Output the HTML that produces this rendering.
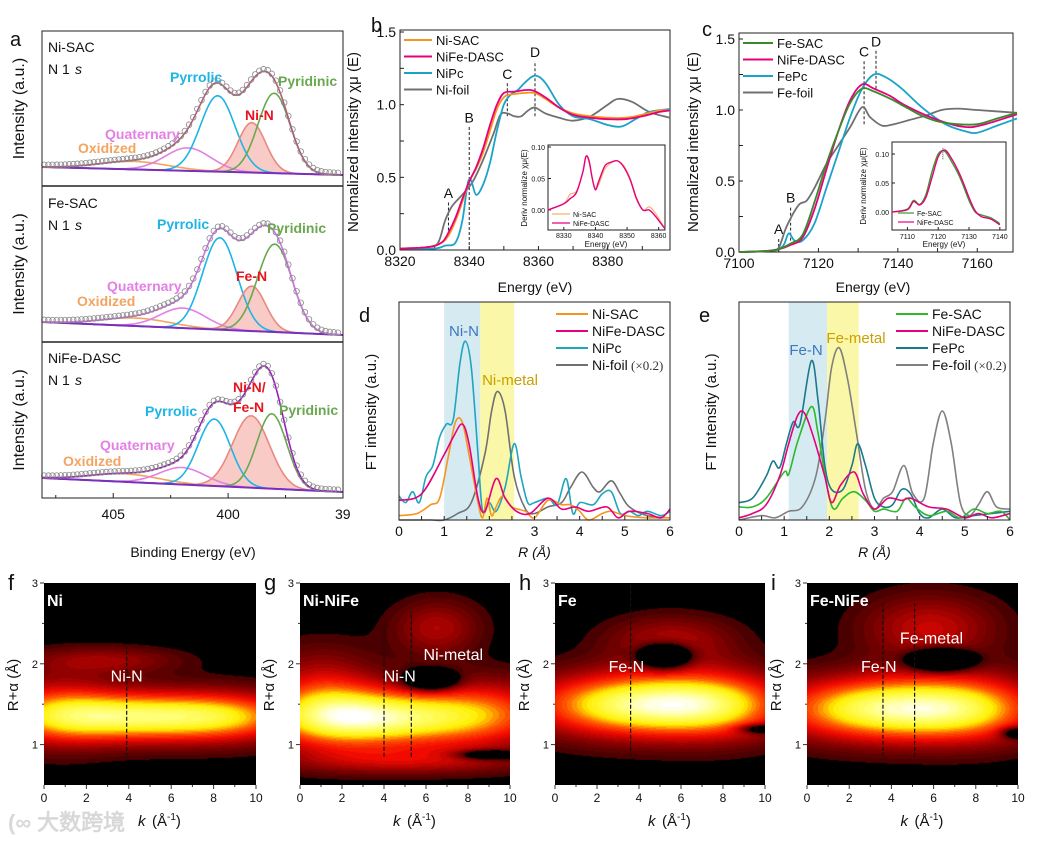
<!DOCTYPE html>
<html><head><meta charset="utf-8">
<style>
html,body{margin:0;padding:0;background:#fff;}
#wrap{position:relative;width:1040px;height:843px;overflow:hidden;font-family:"Liberation Sans",Arial,sans-serif;}
svg{position:absolute;left:0;top:0;}
canvas{position:absolute;}
text{font-family:"Liberation Sans",Arial,sans-serif;}
</style></head>
<body>
<div id="wrap">
<canvas id="hf"></canvas>
<canvas id="hg"></canvas>
<canvas id="hh"></canvas>
<canvas id="hi"></canvas>
<svg id="fig" width="1040" height="843" viewBox="0 0 1040 843"></svg>
</div>
<script>
// ---------- Panel a (XPS) data ----------
const xpsCenters=[[404.1,401.75,400.45,398.97,398.0],[404.0,401.97,400.36,398.97,397.97],[404.5,402.0,400.6,399.0,398.1]];
const xpsHeights=[[8,23,76,50,80],[8,20,92,45,88],[8,17,67,72,75]];
const xpsWidths=[[1.5,1.0,0.75,0.6,0.7],[1.5,1.0,0.75,0.6,0.75],[1.5,1.0,0.7,0.8,0.65]];
const xpsBaseL=[167,322,478];
const xpsBaseR=[175,335,492];
const xpsTicks=[405,400,395];
// ---------- Panel b ----------
const bNiSACx=[8320,8328,8332,8334,8336,8338,8340,8342,8344,8346,8348,8350,8352,8356,8359,8362,8366,8370,8375,8380,8385,8390,8395,8398];
const bNiSACy=[0.01,0.02,0.05,0.1,0.2,0.33,0.47,0.56,0.67,0.82,0.97,1.05,1.07,1.08,1.08,1.04,0.98,0.94,0.92,0.91,0.91,0.93,0.96,0.96];
const bNiFex=[8320,8328,8332,8334,8336,8338,8340,8342,8344,8346,8348,8350,8353,8358,8362,8366,8370,8375,8380,8385,8390,8395,8398];
const bNiFey=[0.01,0.02,0.05,0.12,0.22,0.35,0.47,0.57,0.7,0.86,1.0,1.08,1.09,1.1,1.05,0.98,0.93,0.91,0.9,0.9,0.92,0.95,0.96];
const bNiPcx=[8320,8330,8333,8336,8338,8339.5,8340.5,8342,8344,8346,8348,8350,8352,8354,8356,8359,8362,8366,8370,8375,8380,8384,8388,8392,8398];
const bNiPcy=[0.01,0.01,0.03,0.05,0.2,0.45,0.48,0.38,0.45,0.6,0.82,1.0,1.07,1.1,1.15,1.2,1.15,1.0,0.92,0.9,0.86,0.85,0.9,0.95,0.97];
const bFoilx=[8320,8328,8331,8333,8335,8338,8341,8344,8347,8349,8351,8353,8355,8357,8359,8362,8366,8370,8375,8380,8383,8387,8392,8398];
const bFoily=[0.01,0.02,0.05,0.2,0.3,0.38,0.47,0.62,0.8,0.93,0.94,0.92,0.92,0.96,0.98,0.94,0.91,0.89,0.92,1.0,1.04,1.02,0.95,0.91];
const bInsetx=[8325,8330,8332,8334,8336,8337,8338,8339,8340,8341,8343,8345,8347,8349,8351,8353,8355,8357,8359,8362];
const bInsetNi=[0.0,0.01,0.025,0.03,0.06,0.085,0.075,0.05,0.035,0.04,0.065,0.075,0.078,0.07,0.05,0.02,0.0,0.005,-0.005,-0.03];
const bInsetNiFe=[0.0,0.01,0.018,0.028,0.06,0.085,0.078,0.05,0.032,0.045,0.07,0.076,0.078,0.068,0.048,0.018,0.0,0.0,-0.01,-0.03];
// ---------- Panel c ----------
const cFeSACx=[7100,7106,7110,7113,7116,7119,7122,7125,7128,7131,7134,7138,7142,7146,7150,7155,7160,7165,7170];
const cFeSACy=[0,0.005,0.02,0.06,0.12,0.35,0.62,0.85,1.05,1.15,1.13,1.08,1.02,0.96,0.92,0.9,0.9,0.94,0.98];
const cNiFex=[7100,7106,7110,7113,7116,7119,7122,7125,7128,7131,7134,7138,7142,7150,7157,7162,7170];
const cNiFey=[0,0.005,0.02,0.05,0.1,0.3,0.58,0.85,1.07,1.18,1.15,1.1,1.03,0.93,0.88,0.9,0.97];
const cFePcx=[7100,7108,7111,7112.5,7114,7116,7119,7122,7125,7128,7131,7134,7137,7141,7146,7152,7157,7160,7165,7170];
const cFePcy=[0,0.01,0.04,0.13,0.08,0.08,0.2,0.45,0.7,0.95,1.15,1.25,1.23,1.15,1.02,0.9,0.85,0.84,0.89,0.94];
const cFoilx=[7100,7108,7110,7112,7115,7117,7119,7122,7125,7128,7131,7133,7136,7139,7143,7147,7151,7155,7160,7170];
const cFoily=[0,0.01,0.03,0.18,0.33,0.36,0.45,0.62,0.75,0.88,1.02,0.95,0.89,0.9,0.93,0.96,1.0,1.01,1.0,0.98];
const cInsetx=[7105,7110,7112,7114,7116,7118,7120,7122,7124,7127,7130,7132,7134,7137,7140];
const cInsetFe=[0.0,0.005,0.02,0.013,0.03,0.07,0.1,0.105,0.09,0.06,0.02,0.0,-0.005,-0.01,-0.02];
const cInsetNiFe=[0.0,0.004,0.018,0.012,0.025,0.06,0.095,0.107,0.095,0.065,0.025,0.002,-0.008,-0.012,-0.022];
// ---------- Panel d ----------
const dNiPcx=[0,0.15,0.3,0.45,0.6,0.75,0.9,1.05,1.2,1.35,1.47,1.6,1.75,1.85,2.0,2.15,2.35,2.55,2.7,2.85,3.0,3.3,3.5,3.7,3.85,4.0,4.3,4.5,4.7,4.9,5.1,5.3,5.5,5.8,6.0];
const dNiPcy=[0.11,0.08,0.13,0.08,0.2,0.25,0.38,0.44,0.46,0.72,0.82,0.7,0.3,0.04,0.08,0.04,0.15,0.35,0.2,0.08,0.08,0.1,0.07,0.19,0.03,0.08,0.07,0.12,0.13,0.03,0.04,0.02,0.04,0.02,0.04];
const dNiSACx=[0,0.4,0.7,0.9,1.1,1.25,1.4,1.55,1.75,1.85,1.95,2.05,2.15,2.3,2.5,2.8,3.0,3.3,3.6,3.8,4.0,4.2,4.5,4.7,5.0,5.5,6.0];
const dNiSACy=[0.02,0.03,0.07,0.1,0.3,0.45,0.45,0.3,0.08,0.01,0.1,0.02,0.06,0.11,0.06,0.04,0.01,0.09,0.07,0.07,0.04,0.0,0.03,0.04,0.02,0.01,0.01];
const dNiFex=[0,0.5,1.0,1.2,1.4,1.55,1.75,1.9,2.15,2.35,2.6,2.9,3.3,3.6,3.9,4.2,4.6,4.85,5.1,5.5,5.8,6.0];
const dNiFey=[0.09,0.12,0.3,0.38,0.44,0.35,0.1,0.04,0.19,0.1,0.04,0.03,0.1,0.05,0.06,0.04,0.06,0.01,0.04,0.03,0.01,0.05];
const dFoilx=[0,0.7,1.0,1.3,1.6,1.9,2.05,2.18,2.35,2.55,2.8,3.0,3.3,3.6,3.8,4.05,4.3,4.45,4.7,4.9,5.1,5.5,6.0];
const dFoily=[0.0,0.0,0.0,0.03,0.08,0.3,0.5,0.59,0.5,0.2,0.05,0.03,0.06,0.08,0.15,0.22,0.15,0.13,0.18,0.12,0.06,0.02,0.01];
// ---------- Panel e ----------
const eFePcx=[0,0.3,0.6,0.75,0.9,1.05,1.2,1.35,1.6,1.75,1.9,2.05,2.3,2.5,2.63,2.8,3.0,3.2,3.4,3.6,3.8,4.0,4.2,4.5,4.8,5.2,5.6,6.0];
const eFePcy=[0.08,0.1,0.2,0.27,0.24,0.35,0.45,0.44,0.73,0.55,0.25,0.14,0.14,0.25,0.35,0.25,0.1,0.06,0.07,0.14,0.12,0.03,0.01,0.05,0.01,0.02,0.03,0.04];
const eFeSACx=[0,0.3,0.6,1.0,1.1,1.3,1.6,1.75,1.95,2.1,2.3,2.55,2.8,3.0,3.2,3.5,3.7,3.9,4.2,4.6,4.9,5.2,5.5,5.8,6.0];
const eFeSACy=[0.06,0.06,0.1,0.22,0.21,0.36,0.52,0.4,0.15,0.05,0.1,0.13,0.09,0.04,0.05,0.04,0.1,0.06,0.02,0.04,0.01,0.05,0.03,0.04,0.0];
const eNiFex=[0,0.3,0.6,0.9,1.1,1.3,1.45,1.65,1.9,2.05,2.25,2.55,2.75,3.0,3.3,3.6,3.8,4.2,4.6,5.0,5.3,5.6,6.0];
const eNiFey=[0.01,0.03,0.07,0.2,0.35,0.48,0.49,0.38,0.2,0.08,0.16,0.22,0.12,0.05,0.1,0.09,0.1,0.06,0.05,0.01,0.03,0.01,0.03];
const eFoilx=[0,0.5,0.8,1.1,1.4,1.7,1.9,2.05,2.22,2.4,2.6,2.8,3.0,3.2,3.4,3.65,3.85,4.1,4.3,4.5,4.7,4.9,5.1,5.3,5.5,5.7,6.0];
const eFoily=[0.0,0.02,0.01,0.04,0.06,0.2,0.45,0.7,0.79,0.65,0.4,0.14,0.05,0.1,0.13,0.25,0.12,0.1,0.35,0.5,0.35,0.08,0.02,0.07,0.13,0.06,0.05];
// ---------- Heatmap gaussian components [k, R, sigmaK, sigmaR, amplitude] ----------
const hfBlobs=[[4,1.35,4,0.22,0.9],[0.5,1.45,2,0.35,0.3],[9,1.35,2.5,0.22,0.4],[3,2.05,2.5,0.12,0.25]];
const hgBlobs=[[3.5,1.33,3.5,0.25,0.95],[9,1.4,2.5,0.3,0.45],[1,1.6,2,0.4,0.4],[6.5,2.45,1.5,0.25,0.3],[6.2,1.8,0.8,0.08,-0.8],[5,0.8,4,0.12,0.3],[9,0.88,1,0.04,-0.6]];
const hhBlobs=[[3.8,1.5,3.5,0.28,0.95],[8,1.5,2.5,0.3,0.5],[5.5,2.3,2.2,0.22,0.3],[5.2,2.1,0.8,0.1,-0.9],[9.8,1.2,0.7,0.04,-0.5]];
const hiBlobs=[[3.5,1.45,3.5,0.28,0.95],[8,1.45,2.5,0.3,0.5],[5.8,2.45,2.3,0.3,0.35],[6.3,2.05,1.0,0.09,-0.9],[9.9,1.15,0.5,0.05,-0.5]];
const kTicks=[0,2,4,6,8,10];
const rTicks=[1,2,3];

const NS='http://www.w3.org/2000/svg';
const svg=document.getElementById('fig');
function mk(tag,attrs,parent){const e=document.createElementNS(NS,tag);for(const k in attrs)e.setAttribute(k,attrs[k]);(parent||svg).appendChild(e);return e;}
function txt(x,y,s,size,opts,parent){const o=Object.assign({x:x,y:y,'font-size':size,fill:'#111'},opts||{});const e=mk('text',o,parent);e.textContent=s;return e;}
function lin(d0,d1,r0,r1){return v=>r0+(v-d0)*(r1-r0)/(d1-d0);}
function smooth(p){let d='M'+p[0][0].toFixed(1)+','+p[0][1].toFixed(1);for(let i=0;i<p.length-1;i++){const p0=p[i-1]||p[i],p1=p[i],p2=p[i+1],p3=p[i+2]||p2;const c1=[p1[0]+(p2[0]-p0[0])/6,p1[1]+(p2[1]-p0[1])/6];const c2=[p2[0]-(p3[0]-p1[0])/6,p2[1]-(p3[1]-p1[1])/6];d+='C'+c1[0].toFixed(1)+','+c1[1].toFixed(1)+' '+c2[0].toFixed(1)+','+c2[1].toFixed(1)+' '+p2[0].toFixed(1)+','+p2[1].toFixed(1);}return d;}
function series(xs,ys,sx,sy,color,w,name){const pts=xs.map((x,i)=>[sx(x),sy(ys[i])]);const e=mk('path',{d:smooth(pts),fill:'none',stroke:color,'stroke-width':w,'stroke-linejoin':'round'});


return e;}
function frame(x0,y0,x1,y1,name){const e=mk('rect',{x:x0,y:y0,width:x1-x0,height:y1-y0,fill:'none',stroke:'#222','stroke-width':1});


return e;}
function vtext(x,y,s,size,name){const e=txt(x,y,s,size,{transform:'rotate(-90 '+x+' '+y+')','text-anchor':'middle'});


return e;}
function label(x,y,s,size,opts,name){const e=txt(x,y,s,size,opts);


return e;}
function tickX(sx,vals,y,lab,fmt,size){vals.forEach(v=>{mk('line',{x1:sx(v),x2:sx(v),y1:y,y2:y-4,stroke:'#222'});if(lab){const t=txt(sx(v),y+16,fmt?fmt(v):String(v),size||14,{'text-anchor':'middle'});

}});}
function tickY(sy,vals,x,lab,fmt,size){vals.forEach(v=>{mk('line',{x1:x,x2:x+4,y1:sy(v),y2:sy(v),stroke:'#222'});if(lab){const t=txt(x-4,sy(v)+5,fmt?fmt(v):String(v),size||14,{'text-anchor':'end'});

}});}

// ================= Panel a =================
(function(){
  const x0=42,x1=343;const sx=lin(408.1,395,x0,x1);
  const tops=[31,186,342],bots=[186,342,498];
  const compColors=['#f4a460','#e47fe6','#1cb5e6','#e88a80','#6aa84f'];
  const sumColors=['#b25a78','#d272e8','#9a1cc0'];
  for(let s=0;s<3;s++){
    const base=be=>xpsBaseL[s]+(xpsBaseR[s]-xpsBaseL[s])*(x0-sx(be))/(x0-x1);
    const comp=(c,be)=>xpsHeights[s][c]*Math.exp(-Math.pow(be-xpsCenters[s][c],2)/(2*xpsWidths[s][c]*xpsWidths[s][c]));
    const bes=[];for(let b=408.1;b>=395;b-=0.1)bes.push(b);
    const mn=bes.map(b=>[sx(b),base(b)-comp(3,b)]);
    const fp=mk('path',{d:'M'+mn.map(p=>p[0].toFixed(1)+','+p[1].toFixed(1)).join('L')+'L'+sx(395)+','+base(395)+'L'+sx(408.1)+','+base(408.1)+'Z',fill:'rgba(240,140,130,0.45)',stroke:'none'});
    
    
    for(let c=0;c<5;c++){
      const p=mk('path',{d:'M'+bes.map(b=>sx(b).toFixed(1)+','+(base(b)-comp(c,b)).toFixed(1)).join('L'),fill:'none',stroke:compColors[c],'stroke-width':1.6});
      
      
    }
    const bl=mk('line',{x1:x0,y1:base(408.1),x2:x1,y2:base(395),stroke:'#7b2fbf','stroke-width':2});
    
    
    const tot=b=>base(b)-[0,1,2,3,4].reduce((a,c)=>a+comp(c,b),0);
    const sp=mk('path',{d:'M'+bes.map(b=>sx(b).toFixed(1)+','+tot(b).toFixed(1)).join('L'),fill:'none',stroke:sumColors[s],'stroke-width':1.6});
    
    
    for(let b=408.0;b>=395.1;b-=0.18){
      const c=mk('circle',{cx:sx(b),cy:tot(b)-2,r:2.8,fill:'none',stroke:'#888','stroke-width':0.8});
      
      
    }
    vtext(24,(tops[s]+bots[s])/2,'Intensity (a.u.)',16,'y-axis-title');
  }
  frame(x0,31,x1,498,'panel-a-frame');
  mk('line',{x1:x0,x2:x1,y1:186,y2:186,stroke:'#222','stroke-width':1.5});
  mk('line',{x1:x0,x2:x1,y1:342,y2:342,stroke:'#222','stroke-width':1.5});
  [407.5,402.5,397.5].forEach(v=>mk('line',{x1:sx(v),x2:sx(v),y1:498,y2:495,stroke:'#222'}));
  xpsTicks.forEach(v=>{mk('line',{x1:sx(v),x2:sx(v),y1:498,y2:493,stroke:'#222'});});
  label(sx(405),519,'405',14,{'text-anchor':'middle'},'x-tick-label');
  label(sx(400),519,'400',14,{'text-anchor':'middle'},'x-tick-label');
  label(335,519,'39',14,{},'x-tick-label');
  label(193,557,'Binding Energy (eV)',14,{'text-anchor':'middle'},'x-axis-title');
  label(10,46,'a',20,{},'panel-label-a');
  const B={'font-weight':'bold'};
  const lb=(x,y,s,c,n)=>label(x,y,s,14,Object.assign({fill:c},B),n);
  label(48,52,'Ni-SAC',14,{},'sample-name');label(48,74,'N 1',14,{},'core-level');
  label(48,208,'Fe-SAC',14,{},'sample-name');label(48,230,'N 1',14,{},'core-level');
  label(48,363,'NiFe-DASC',14,{},'sample-name');label(48,385,'N 1',14,{},'core-level');
  [74,230,385].forEach(y=>label(75,y,'s',14,{'font-style':'italic'},'core-level-s'));
  lb(170,82,'Pyrrolic','#1cb5e6','pyrrolic-label');lb(278,86,'Pyridinic','#6aa84f','pyridinic-label');
  lb(245,120,'Ni-N','#e8141e','ni-n-label');lb(105,139,'Quaternary','#e47fe6','quaternary-label');lb(78,153,'Oxidized','#f4a460','oxidized-label');
  lb(157,229,'Pyrrolic','#1cb5e6','pyrrolic-label');lb(267,233,'Pyridinic','#6aa84f','pyridinic-label');
  lb(236,281,'Fe-N','#e8141e','fe-n-label');lb(107,291,'Quaternary','#e47fe6','quaternary-label');lb(77,306,'Oxidized','#f4a460','oxidized-label');
  lb(145,416,'Pyrrolic','#1cb5e6','pyrrolic-label');lb(233,392,'Ni-N/','#e8141e','ni-n-label');lb(233,412,'Fe-N','#e8141e','fe-n-label');
  lb(279,415,'Pyridinic','#6aa84f','pyridinic-label');lb(100,450,'Quaternary','#e47fe6','quaternary-label');lb(63,466,'Oxidized','#f4a460','oxidized-label');
})();

// ================= Panel b =================
(function(){
  const sx=lin(8320,8398,400,670),sy=lin(0,1.5,250,32);
  frame(400,30,670,250,'panel-b-frame');
  tickX(sx,[8320,8340,8360,8380],250,true);tickX(sx,[8330,8350,8370,8390],250,false);
  tickY(sy,[0,0.5,1.0,1.5],400,true,v=>v.toFixed(1));tickY(sy,[0.25,0.75,1.25],400,false);
  label(535,292,'Energy (eV)',14,{'text-anchor':'middle'},'x-axis-title');
  vtext(358,142,'Normalized intensity χμ (E)',15,'y-axis-title');
  label(371,32,'b',20,{},'panel-label-b');
  const marks=[[8334,0.1,0.33,'A'],[8340,0,0.85,'B'],[8351,0.92,1.15,'C'],[8359,0.92,1.3,'D']];
  marks.forEach(m=>{const l=mk('line',{x1:sx(m[0]),x2:sx(m[0]),y1:sy(m[1]),y2:sy(m[2]),stroke:'#222','stroke-dasharray':'3,2'});
    
    
    label(sx(m[0]),sy(m[2])-4,m[3],14,{'text-anchor':'middle'},'edge-marker-label');});
  series(bFoilx,bFoily,sx,sy,'#707070',1.8,'ni-foil-line');
  series(bNiPcx,bNiPcy,sx,sy,'#1aa3c9',1.8,'nipc-line');
  series(bNiSACx,bNiSACy,sx,sy,'#f7941d',1.8,'ni-sac-line');
  series(bNiFex,bNiFey,sx,sy,'#e6007e',1.8,'nife-dasc-line');
  const leg=[['Ni-SAC','#f7941d'],['NiFe-DASC','#e6007e'],['NiPc','#1aa3c9'],['Ni-foil','#707070']];
  leg.forEach((l,i)=>{const y=40+i*16.5;const ln=mk('line',{x1:404,x2:432,y1:y,y2:y,stroke:l[1],'stroke-width':2});
    
    
    label(436,y+5,l[0],13,{},'legend-entry');});
  const ix=lin(8325,8362,548,665),iy=lin(0,0.1,210,147);
  frame(548,145,665,230,'inset-b-frame');
  [8330,8340,8350,8360].forEach(v=>{mk('line',{x1:ix(v),x2:ix(v),y1:230,y2:227,stroke:'#222'});label(ix(v),238,String(v),7,{'text-anchor':'middle'},'inset-x-tick');});
  [0,0.05,0.1].forEach(v=>{mk('line',{x1:548,x2:551,y1:iy(v),y2:iy(v),stroke:'#222'});label(545,iy(v)+3,v.toFixed(2),7,{'text-anchor':'end'},'inset-y-tick');});
  label(606,247,'Energy (eV)',8,{'text-anchor':'middle'},'inset-x-title');
  vtext(527,188,'Deriv normalize χμ(E)',8,'inset-y-title');
  series(bInsetx,bInsetNi,ix,iy,'#f7b070',1.2,'inset-ni-sac');
  series(bInsetx,bInsetNiFe,ix,iy,'#e6007e',1.4,'inset-nife-dasc');
  [['Ni-SAC','#f7b070',214],['NiFe-DASC','#e6007e',223]].forEach(l=>{mk('line',{x1:552,x2:570,y1:l[2],y2:l[2],stroke:l[1],'stroke-width':1.2});label(573,l[2]+3,l[0],7,{},'inset-legend-entry');});
})();

// ================= Panel c =================
(function(){
  const sx=lin(7100,7169,739,1013),sy=lin(0,1.5,252,39);
  frame(739,33,1013,252,'panel-c-frame');
  tickX(sx,[7100,7120,7140,7160],252,true);tickX(sx,[7110,7130,7150],252,false);
  tickY(sy,[0,0.5,1.0,1.5],739,true,v=>v.toFixed(1));tickY(sy,[0.25,0.75,1.25],739,false);
  label(873,292,'Energy (eV)',14,{'text-anchor':'middle'},'x-axis-title');
  vtext(698,142,'Normalized intensity χμ (E)',15,'y-axis-title');
  label(702,36,'c',20,{},'panel-label-c');
  const marks=[[7110,0,0.1,'A'],[7113,0.08,0.32,'B'],[7131.5,0.9,1.35,'C'],[7134.5,1.15,1.42,'D']];
  marks.forEach(m=>{const l=mk('line',{x1:sx(m[0]),x2:sx(m[0]),y1:sy(m[1]),y2:sy(m[2]),stroke:'#222','stroke-dasharray':'3,2'});
    
    
    label(sx(m[0]),sy(m[2])-4,m[3],14,{'text-anchor':'middle'},'edge-marker-label');});
  series(cFoilx,cFoily,sx,sy,'#707070',1.8,'fe-foil-line');
  series(cFePcx,cFePcy,sx,sy,'#1aa3c9',1.8,'fepc-line');
  series(cNiFex,cNiFey,sx,sy,'#e6007e',1.8,'nife-dasc-line');
  series(cFeSACx,cFeSACy,sx,sy,'#3a8a2a',1.8,'fe-sac-line');
  const leg=[['Fe-SAC','#3a8a2a'],['NiFe-DASC','#e6007e'],['FePc','#1aa3c9'],['Fe-foil','#707070']];
  leg.forEach((l,i)=>{const y=43+i*16.5;const ln=mk('line',{x1:743,x2:773,y1:y,y2:y,stroke:l[1],'stroke-width':2});
    
    
    label(777,y+5,l[0],13,{},'legend-entry');});
  const ix=lin(7105,7142,892,1006),iy=lin(0,0.1,212,154);
  frame(892,142,1006,230,'inset-c-frame');
  [7110,7120,7130,7140].forEach(v=>{mk('line',{x1:ix(v),x2:ix(v),y1:230,y2:227,stroke:'#222'});label(ix(v),239,String(v),7,{'text-anchor':'middle'},'inset-x-tick');});
  [0,0.05,0.1].forEach(v=>{mk('line',{x1:892,x2:895,y1:iy(v),y2:iy(v),stroke:'#222'});label(889,iy(v)+3,v.toFixed(2),7,{'text-anchor':'end'},'inset-y-tick');});
  label(944,247,'Energy (eV)',8,{'text-anchor':'middle'},'inset-x-title');
  vtext(866,186,'Deriv normalize χμ(E)',8,'inset-y-title');
  series(cInsetx,cInsetFe,ix,iy,'#3a9a2a',1.4,'inset-fe-sac');
  series(cInsetx,cInsetNiFe,ix,iy,'#e6007e',1.4,'inset-nife-dasc');
  mk('line',{x1:ix(7121.5),x2:ix(7121.5),y1:iy(0.11),y2:iy(0.09),stroke:'#444','stroke-dasharray':'1,1'});
  [['Fe-SAC','#3a9a2a',213],['NiFe-DASC','#e6007e',222]].forEach(l=>{mk('line',{x1:898,x2:914,y1:l[2],y2:l[2],stroke:l[1],'stroke-width':1.2});label(917,l[2]+3,l[0],7,{},'inset-legend-entry');});
})();

// ================= Panels d/e =================
function ftPanel(x0,x1,blue,yellow,sets,legend,lx,tags,letter,ytitle){
  const sx=lin(0,6,x0,x1),sy=lin(0,1,520,302);
  const b=mk('rect',{x:sx(blue[0]),y:302,width:sx(blue[1])-sx(blue[0]),height:218,fill:'#d6eaf2'});
  
  
  const yv=mk('rect',{x:sx(yellow[0]),y:302,width:sx(yellow[1])-sx(yellow[0]),height:218,fill:'#fbf7a8'});
  
  
  sets.forEach(s=>series(s[0],s[1],sx,sy,s[2],1.6,s[3]));
  frame(x0,302,x1,520,'panel-'+letter+'-frame');
  tickX(sx,[0,1,2,3,4,5,6],520,true,null,14);tickX(sx,[0.5,1.5,2.5,3.5,4.5,5.5],520,false);
  legend.forEach((l,i)=>{const y=314+i*17;const ln=mk('line',{x1:lx,x2:lx+32,y1:y,y2:y,stroke:l[1],'stroke-width':2});
    
    
    const t=label(lx+36,y+5,l[0],14,{},'legend-entry');
    if(l[2]){const u=mk('tspan',{'font-family':'Liberation Serif',fill:'#333','font-size':13},t);u.textContent=' (×0.2)';}});
  tags.forEach(t=>label(t[0],t[1],t[2],15,{fill:t[3],'text-anchor':'middle'},t[4]));
  label((x0+x1)/2,557,'R (Å)',14,{'text-anchor':'middle','font-style':'italic'},'x-axis-title');
  vtext(x0-23,412,ytitle,15,'y-axis-title');
  label(x0-40,322,letter,20,{},'panel-label-'+letter);
}
ftPanel(399,670,[1.0,1.8],[1.8,2.55],
  [[dFoilx,dFoily,'#707070','ni-foil-ft'],[dNiPcx,dNiPcy,'#1ea5c0','nipc-ft'],[dNiSACx,dNiSACy,'#f7941d','ni-sac-ft'],[dNiFex,dNiFey,'#e6007e','nife-dasc-ft']],
  [['Ni-SAC','#f7941d'],['NiFe-DASC','#e6007e'],['NiPc','#1ea5c0'],['Ni-foil','#707070',1]],556,
  [[464,336,'Ni-N','#3a78c0','ni-n-label'],[510,385,'Ni-metal','#c9a000','ni-metal-label']],'d','FT intensity (a.u.)');
ftPanel(739,1010,[1.1,1.95],[1.95,2.65],
  [[eFoilx,eFoily,'#808080','fe-foil-ft'],[eFePcx,eFePcy,'#1a7a8a','fepc-ft'],[eFeSACx,eFeSACy,'#2db82d','fe-sac-ft'],[eNiFex,eNiFey,'#e6007e','nife-dasc-ft']],
  [['Fe-SAC','#2db82d'],['NiFe-DASC','#e6007e'],['FePc','#1a7a8a'],['Fe-foil','#808080',1]],896,
  [[806,355,'Fe-N','#3a78c0','fe-n-label'],[856,343,'Fe-metal','#c9a000','fe-metal-label']],'e','FT Intensity (a.u.)');

// ================= Heatmaps =================
function cmap(v){
  v=Math.round(v/0.04)*0.04;
  if(v<0.07)return[0,0,0];
  const st=[[0.07,[70,0,0]],[0.25,[150,0,0]],[0.45,[245,10,0]],[0.62,[255,90,0]],[0.78,[255,240,0]],[1.0,[255,255,120]],[1.15,[255,255,255]]];
  if(v>=1.15)return[255,255,255];
  for(let i=0;i<st.length-1;i++){if(v<=st[i+1][0]){const t=(v-st[i][0])/(st[i+1][0]-st[i][0]);return st[i][1].map((c,j)=>Math.round(c+t*(st[i+1][1][j]-c)));}}
}
function heat(id,x0,x1,blobs,dashK,letter,title,tags){
  const top=583,bot=785;const W=x1-x0,H=bot-top;
  const cv=document.getElementById(id);cv.width=W;cv.height=H;cv.style.left=x0+'px';cv.style.top=top+'px';
  const ctx=cv.getContext('2d');const img=ctx.createImageData(W,H);
  for(let py=0;py<H;py++){const R=3-(py/H)*2.5;for(let px=0;px<W;px++){const k=px/W*10;let v=0;
    blobs.forEach(b=>{v+=b[4]*Math.exp(-Math.pow(k-b[0],2)/(2*b[2]*b[2])-Math.pow(R-b[1],2)/(2*b[3]*b[3]));});
    const c=cmap(v);const i=(py*W+px)*4;img.data[i]=c[0];img.data[i+1]=c[1];img.data[i+2]=c[2];img.data[i+3]=255;}}
  ctx.putImageData(img,0,0);
  const sx=lin(0,10,x0,x1),sy=lin(0.5,3,bot,top);
  dashK.forEach(d=>{const l=mk('line',{x1:sx(d[0]),x2:sx(d[0]),y1:sy(d[1]),y2:sy(d[2]),stroke:'#111','stroke-width':1.2,'stroke-dasharray':'4,2'});
    
    });
  kTicks.forEach(v=>{mk('line',{x1:sx(v),x2:sx(v),y1:bot,y2:bot+4,stroke:'#333'});label(sx(v),802,String(v),12,{'text-anchor':'middle'},'x-tick-label');});
  [1,3,5,7,9].forEach(v=>mk('line',{x1:sx(v),x2:sx(v),y1:bot,y2:bot+2,stroke:'#333'}));
  rTicks.forEach(v=>{mk('line',{x1:x0-4,x2:x0,y1:sy(v),y2:sy(v),stroke:'#333'});label(x0-6,sy(v)+4,String(v),11,{'text-anchor':'end'},'y-tick-label');});
  [1.5,2.5].forEach(v=>mk('line',{x1:x0-2,x2:x0,y1:sy(v),y2:sy(v),stroke:'#333'}));
  label((x0+x1)/2-12,826,'k',15,{'font-style':'italic'},'x-axis-title');
  const kt2=label((x0+x1)/2+2,826,'(Å',15,{},'x-axis-title');
  const sup=mk('tspan',{dy:-6,'font-size':10},kt2);sup.textContent='-1';
  const cl=mk('tspan',{dy:6},kt2);cl.textContent=')';
  vtext(x0-26,685,'R+α (Å)',15,'y-axis-title');
  label(x0-36,590,letter,22,{},'panel-label-'+letter);
  label(x0+3,606,title,16,{fill:'#fff','font-weight':'bold'},'heatmap-title');
  tags.forEach(t=>label(sx(t[0]),sy(t[1]),t[2],16,{fill:'#fff','text-anchor':'middle'},t[3]));
}
heat('hf',44,256,hfBlobs,[[3.9,0.85,2.2]],'f','Ni',[[3.9,1.78,'Ni-N','ni-n-label']]);
heat('hg',300,510,hgBlobs,[[4,0.85,2.5],[5.3,0.85,2.65]],'g','Ni-NiFe',[[4.75,1.78,'Ni-N','ni-n-label'],[7.3,2.05,'Ni-metal','ni-metal-label']]);
heat('hh',555,765,hhBlobs,[[3.6,0.85,3.0]],'h','Fe',[[3.4,1.9,'Fe-N','fe-n-label']]);
heat('hi',807,1018,hiBlobs,[[3.6,0.85,2.75],[5.1,0.85,2.75]],'i','Fe-NiFe',[[3.4,1.9,'Fe-N','fe-n-label'],[5.9,2.25,'Fe-metal','fe-metal-label']]);
label(8,830,'(∞ 大数跨境',22,{fill:'#d8d8d8','font-family':'"Liberation Sans","Noto Sans CJK SC",sans-serif','font-weight':'bold'},'watermark');
</script>
</body></html>
